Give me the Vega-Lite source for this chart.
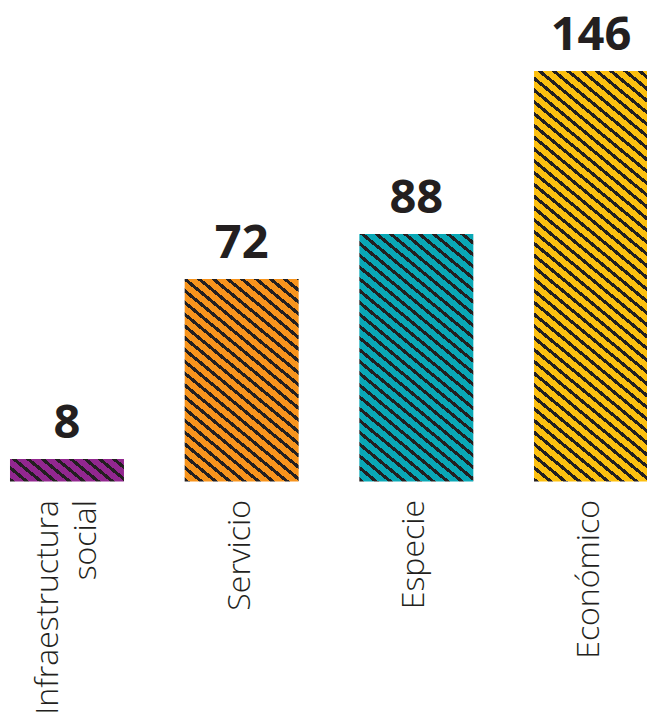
{
  "$schema": "https://vega.github.io/schema/vega-lite/v6.json",
  "width": 647,
  "height": 410.5,
  "autosize": "none",
  "padding": {"top": 71, "left": 0, "right": 0, "bottom": 230.5},
  "background": "white",
  "config": {"view": {"stroke": null}},
  "data": {"values": [
    {"categoria": "Infraestructura social", "valor": 8},
    {"categoria": "Servicio", "valor": 72},
    {"categoria": "Especie", "valor": 88},
    {"categoria": "Económico", "valor": 146}
  ]},
  "encoding": {
    "x": {"field": "categoria", "type": "nominal", "sort": null,
      "scale": {"range": [0, 658], "paddingInner": 0.3475, "paddingOuter": 0.0572, "round": false},
      "axis": {"title": null, "domain": false, "ticks": false, "labelAngle": -90, "labelAlign": "right", "labelBaseline": "middle",
        "labelPadding": 18, "labelFont": "Open Sans", "labelFontWeight": 300, "labelFontSize": 32, "labelColor": "#231f20",
        "labelLineHeight": 38, "labelLimit": 0, "labelOverlap": false, "labelBound": false,
        "labelOffset": {"condition": {"test": "datum.label == 'Infraestructura social'", "value": -19}, "value": -2},
        "labelExpr": "datum.label == 'Infraestructura social' ? ['Infraestructura', 'social'] : datum.label"}},
    "y": {"field": "valor", "type": "quantitative", "scale": {"domain": [0, 146]}, "axis": null}
  },
  "layer": [
    {"transform": [{"filter": "datum.categoria == 'Infraestructura social'"}],
     "mark": {"type": "bar", "fill": {"gradient": "linear", "x1": 0, "y1": 1, "x2": 5.933, "y2": -0.4186, "stops": [
      {"offset":0,"color":"#231f20"},{"offset":0.007,"color":"#231f20"},{"offset":0.007,"color":"#92278f"},
      {"offset":0.02,"color":"#92278f"},{"offset":0.02,"color":"#231f20"},{"offset":0.027,"color":"#231f20"},{"offset":0.027,"color":"#92278f"},
      {"offset":0.04,"color":"#92278f"},{"offset":0.04,"color":"#231f20"},{"offset":0.047,"color":"#231f20"},{"offset":0.047,"color":"#92278f"},
      {"offset":0.06,"color":"#92278f"},{"offset":0.06,"color":"#231f20"},{"offset":0.067,"color":"#231f20"},{"offset":0.067,"color":"#92278f"},
      {"offset":0.08,"color":"#92278f"},{"offset":0.08,"color":"#231f20"},{"offset":0.087,"color":"#231f20"},{"offset":0.087,"color":"#92278f"},
      {"offset":0.1,"color":"#92278f"},{"offset":0.1,"color":"#231f20"},{"offset":0.107,"color":"#231f20"},{"offset":0.107,"color":"#92278f"},
      {"offset":0.12,"color":"#92278f"},{"offset":0.12,"color":"#231f20"},{"offset":0.127,"color":"#231f20"},{"offset":0.127,"color":"#92278f"},
      {"offset":0.14,"color":"#92278f"},{"offset":0.14,"color":"#231f20"},{"offset":0.147,"color":"#231f20"},{"offset":0.147,"color":"#92278f"},
      {"offset":0.16,"color":"#92278f"},{"offset":0.16,"color":"#231f20"},{"offset":0.167,"color":"#231f20"},{"offset":0.167,"color":"#92278f"},
      {"offset":0.18,"color":"#92278f"},{"offset":0.18,"color":"#231f20"},{"offset":0.187,"color":"#231f20"},{"offset":0.187,"color":"#92278f"},
      {"offset":0.2,"color":"#92278f"},{"offset":0.2,"color":"#231f20"},{"offset":0.207,"color":"#231f20"},{"offset":0.207,"color":"#92278f"},
      {"offset":1,"color":"#92278f"}
     ]}}},
    {"transform": [{"filter": "datum.categoria == 'Servicio'"}],
     "mark": {"type": "bar", "fill": {"gradient": "linear", "x1": 0, "y1": 1, "x2": 1.114, "y2": -1.3966, "stops": [
      {"offset":0,"color":"#231f20"},{"offset":0.007,"color":"#231f20"},{"offset":0.007,"color":"#f7941d"},
      {"offset":0.02,"color":"#f7941d"},{"offset":0.02,"color":"#231f20"},{"offset":0.027,"color":"#231f20"},{"offset":0.027,"color":"#f7941d"},
      {"offset":0.04,"color":"#f7941d"},{"offset":0.04,"color":"#231f20"},{"offset":0.047,"color":"#231f20"},{"offset":0.047,"color":"#f7941d"},
      {"offset":0.06,"color":"#f7941d"},{"offset":0.06,"color":"#231f20"},{"offset":0.067,"color":"#231f20"},{"offset":0.067,"color":"#f7941d"},
      {"offset":0.08,"color":"#f7941d"},{"offset":0.08,"color":"#231f20"},{"offset":0.087,"color":"#231f20"},{"offset":0.087,"color":"#f7941d"},
      {"offset":0.1,"color":"#f7941d"},{"offset":0.1,"color":"#231f20"},{"offset":0.107,"color":"#231f20"},{"offset":0.107,"color":"#f7941d"},
      {"offset":0.12,"color":"#f7941d"},{"offset":0.12,"color":"#231f20"},{"offset":0.127,"color":"#231f20"},{"offset":0.127,"color":"#f7941d"},
      {"offset":0.14,"color":"#f7941d"},{"offset":0.14,"color":"#231f20"},{"offset":0.147,"color":"#231f20"},{"offset":0.147,"color":"#f7941d"},
      {"offset":0.16,"color":"#f7941d"},{"offset":0.16,"color":"#231f20"},{"offset":0.167,"color":"#231f20"},{"offset":0.167,"color":"#f7941d"},
      {"offset":0.18,"color":"#f7941d"},{"offset":0.18,"color":"#231f20"},{"offset":0.187,"color":"#231f20"},{"offset":0.187,"color":"#f7941d"},
      {"offset":0.2,"color":"#f7941d"},{"offset":0.2,"color":"#231f20"},{"offset":0.207,"color":"#231f20"},{"offset":0.207,"color":"#f7941d"},
      {"offset":0.22,"color":"#f7941d"},{"offset":0.22,"color":"#231f20"},{"offset":0.227,"color":"#231f20"},{"offset":0.227,"color":"#f7941d"},
      {"offset":0.24,"color":"#f7941d"},{"offset":0.24,"color":"#231f20"},{"offset":0.247,"color":"#231f20"},{"offset":0.247,"color":"#f7941d"},
      {"offset":0.26,"color":"#f7941d"},{"offset":0.26,"color":"#231f20"},{"offset":0.267,"color":"#231f20"},{"offset":0.267,"color":"#f7941d"},
      {"offset":0.28,"color":"#f7941d"},{"offset":0.28,"color":"#231f20"},{"offset":0.287,"color":"#231f20"},{"offset":0.287,"color":"#f7941d"},
      {"offset":0.3,"color":"#f7941d"},{"offset":0.3,"color":"#231f20"},{"offset":0.307,"color":"#231f20"},{"offset":0.307,"color":"#f7941d"},
      {"offset":0.32,"color":"#f7941d"},{"offset":0.32,"color":"#231f20"},{"offset":0.327,"color":"#231f20"},{"offset":0.327,"color":"#f7941d"},
      {"offset":0.34,"color":"#f7941d"},{"offset":0.34,"color":"#231f20"},{"offset":0.347,"color":"#231f20"},{"offset":0.347,"color":"#f7941d"},
      {"offset":0.36,"color":"#f7941d"},{"offset":0.36,"color":"#231f20"},{"offset":0.367,"color":"#231f20"},{"offset":0.367,"color":"#f7941d"},
      {"offset":0.38,"color":"#f7941d"},{"offset":0.38,"color":"#231f20"},{"offset":0.387,"color":"#231f20"},{"offset":0.387,"color":"#f7941d"},
      {"offset":0.4,"color":"#f7941d"},{"offset":0.4,"color":"#231f20"},{"offset":0.407,"color":"#231f20"},{"offset":0.407,"color":"#f7941d"},
      {"offset":0.42,"color":"#f7941d"},{"offset":0.42,"color":"#231f20"},{"offset":0.427,"color":"#231f20"},{"offset":0.427,"color":"#f7941d"},
      {"offset":0.44,"color":"#f7941d"},{"offset":0.44,"color":"#231f20"},{"offset":0.447,"color":"#231f20"},{"offset":0.447,"color":"#f7941d"},
      {"offset":0.46,"color":"#f7941d"},{"offset":0.46,"color":"#231f20"},{"offset":0.467,"color":"#231f20"},{"offset":0.467,"color":"#f7941d"},
      {"offset":0.48,"color":"#f7941d"},{"offset":0.48,"color":"#231f20"},{"offset":0.487,"color":"#231f20"},{"offset":0.487,"color":"#f7941d"},
      {"offset":0.5,"color":"#f7941d"},{"offset":0.5,"color":"#231f20"},{"offset":0.507,"color":"#231f20"},{"offset":0.507,"color":"#f7941d"},
      {"offset":0.52,"color":"#f7941d"},{"offset":0.52,"color":"#231f20"},{"offset":0.527,"color":"#231f20"},{"offset":0.527,"color":"#f7941d"},
      {"offset":1,"color":"#f7941d"}
     ]}}},
    {"transform": [{"filter": "datum.categoria == 'Especie'"}],
     "mark": {"type": "bar", "fill": {"gradient": "linear", "x1": 0, "y1": 1, "x2": 0.7921, "y2": -1.0837, "stops": [
      {"offset":0,"color":"#231f20"},{"offset":0.007,"color":"#231f20"},{"offset":0.007,"color":"#0aa8b6"},
      {"offset":0.02,"color":"#0aa8b6"},{"offset":0.02,"color":"#231f20"},{"offset":0.027,"color":"#231f20"},{"offset":0.027,"color":"#0aa8b6"},
      {"offset":0.04,"color":"#0aa8b6"},{"offset":0.04,"color":"#231f20"},{"offset":0.047,"color":"#231f20"},{"offset":0.047,"color":"#0aa8b6"},
      {"offset":0.06,"color":"#0aa8b6"},{"offset":0.06,"color":"#231f20"},{"offset":0.067,"color":"#231f20"},{"offset":0.067,"color":"#0aa8b6"},
      {"offset":0.08,"color":"#0aa8b6"},{"offset":0.08,"color":"#231f20"},{"offset":0.087,"color":"#231f20"},{"offset":0.087,"color":"#0aa8b6"},
      {"offset":0.1,"color":"#0aa8b6"},{"offset":0.1,"color":"#231f20"},{"offset":0.107,"color":"#231f20"},{"offset":0.107,"color":"#0aa8b6"},
      {"offset":0.12,"color":"#0aa8b6"},{"offset":0.12,"color":"#231f20"},{"offset":0.127,"color":"#231f20"},{"offset":0.127,"color":"#0aa8b6"},
      {"offset":0.14,"color":"#0aa8b6"},{"offset":0.14,"color":"#231f20"},{"offset":0.147,"color":"#231f20"},{"offset":0.147,"color":"#0aa8b6"},
      {"offset":0.16,"color":"#0aa8b6"},{"offset":0.16,"color":"#231f20"},{"offset":0.167,"color":"#231f20"},{"offset":0.167,"color":"#0aa8b6"},
      {"offset":0.18,"color":"#0aa8b6"},{"offset":0.18,"color":"#231f20"},{"offset":0.187,"color":"#231f20"},{"offset":0.187,"color":"#0aa8b6"},
      {"offset":0.2,"color":"#0aa8b6"},{"offset":0.2,"color":"#231f20"},{"offset":0.207,"color":"#231f20"},{"offset":0.207,"color":"#0aa8b6"},
      {"offset":0.22,"color":"#0aa8b6"},{"offset":0.22,"color":"#231f20"},{"offset":0.227,"color":"#231f20"},{"offset":0.227,"color":"#0aa8b6"},
      {"offset":0.24,"color":"#0aa8b6"},{"offset":0.24,"color":"#231f20"},{"offset":0.247,"color":"#231f20"},{"offset":0.247,"color":"#0aa8b6"},
      {"offset":0.26,"color":"#0aa8b6"},{"offset":0.26,"color":"#231f20"},{"offset":0.267,"color":"#231f20"},{"offset":0.267,"color":"#0aa8b6"},
      {"offset":0.28,"color":"#0aa8b6"},{"offset":0.28,"color":"#231f20"},{"offset":0.287,"color":"#231f20"},{"offset":0.287,"color":"#0aa8b6"},
      {"offset":0.3,"color":"#0aa8b6"},{"offset":0.3,"color":"#231f20"},{"offset":0.307,"color":"#231f20"},{"offset":0.307,"color":"#0aa8b6"},
      {"offset":0.32,"color":"#0aa8b6"},{"offset":0.32,"color":"#231f20"},{"offset":0.327,"color":"#231f20"},{"offset":0.327,"color":"#0aa8b6"},
      {"offset":0.34,"color":"#0aa8b6"},{"offset":0.34,"color":"#231f20"},{"offset":0.347,"color":"#231f20"},{"offset":0.347,"color":"#0aa8b6"},
      {"offset":0.36,"color":"#0aa8b6"},{"offset":0.36,"color":"#231f20"},{"offset":0.367,"color":"#231f20"},{"offset":0.367,"color":"#0aa8b6"},
      {"offset":0.38,"color":"#0aa8b6"},{"offset":0.38,"color":"#231f20"},{"offset":0.387,"color":"#231f20"},{"offset":0.387,"color":"#0aa8b6"},
      {"offset":0.4,"color":"#0aa8b6"},{"offset":0.4,"color":"#231f20"},{"offset":0.407,"color":"#231f20"},{"offset":0.407,"color":"#0aa8b6"},
      {"offset":0.42,"color":"#0aa8b6"},{"offset":0.42,"color":"#231f20"},{"offset":0.427,"color":"#231f20"},{"offset":0.427,"color":"#0aa8b6"},
      {"offset":0.44,"color":"#0aa8b6"},{"offset":0.44,"color":"#231f20"},{"offset":0.447,"color":"#231f20"},{"offset":0.447,"color":"#0aa8b6"},
      {"offset":0.46,"color":"#0aa8b6"},{"offset":0.46,"color":"#231f20"},{"offset":0.467,"color":"#231f20"},{"offset":0.467,"color":"#0aa8b6"},
      {"offset":0.48,"color":"#0aa8b6"},{"offset":0.48,"color":"#231f20"},{"offset":0.487,"color":"#231f20"},{"offset":0.487,"color":"#0aa8b6"},
      {"offset":0.5,"color":"#0aa8b6"},{"offset":0.5,"color":"#231f20"},{"offset":0.507,"color":"#231f20"},{"offset":0.507,"color":"#0aa8b6"},
      {"offset":0.52,"color":"#0aa8b6"},{"offset":0.52,"color":"#231f20"},{"offset":0.527,"color":"#231f20"},{"offset":0.527,"color":"#0aa8b6"},
      {"offset":0.54,"color":"#0aa8b6"},{"offset":0.54,"color":"#231f20"},{"offset":0.547,"color":"#231f20"},{"offset":0.547,"color":"#0aa8b6"},
      {"offset":0.56,"color":"#0aa8b6"},{"offset":0.56,"color":"#231f20"},{"offset":0.567,"color":"#231f20"},{"offset":0.567,"color":"#0aa8b6"},
      {"offset":0.58,"color":"#0aa8b6"},{"offset":0.58,"color":"#231f20"},{"offset":0.587,"color":"#231f20"},{"offset":0.587,"color":"#0aa8b6"},
      {"offset":1,"color":"#0aa8b6"}
     ]}}},
    {"transform": [{"filter": "datum.categoria == 'Económico'"}],
     "mark": {"type": "bar", "fill": {"gradient": "linear", "x1": 0, "y1": 1, "x2": 0.3129, "y2": -0.3655, "stops": [
      {"offset":0,"color":"#231f20"},{"offset":0.007,"color":"#231f20"},{"offset":0.007,"color":"#fdc010"},
      {"offset":0.02,"color":"#fdc010"},{"offset":0.02,"color":"#231f20"},{"offset":0.027,"color":"#231f20"},{"offset":0.027,"color":"#fdc010"},
      {"offset":0.04,"color":"#fdc010"},{"offset":0.04,"color":"#231f20"},{"offset":0.047,"color":"#231f20"},{"offset":0.047,"color":"#fdc010"},
      {"offset":0.06,"color":"#fdc010"},{"offset":0.06,"color":"#231f20"},{"offset":0.067,"color":"#231f20"},{"offset":0.067,"color":"#fdc010"},
      {"offset":0.08,"color":"#fdc010"},{"offset":0.08,"color":"#231f20"},{"offset":0.087,"color":"#231f20"},{"offset":0.087,"color":"#fdc010"},
      {"offset":0.1,"color":"#fdc010"},{"offset":0.1,"color":"#231f20"},{"offset":0.107,"color":"#231f20"},{"offset":0.107,"color":"#fdc010"},
      {"offset":0.12,"color":"#fdc010"},{"offset":0.12,"color":"#231f20"},{"offset":0.127,"color":"#231f20"},{"offset":0.127,"color":"#fdc010"},
      {"offset":0.14,"color":"#fdc010"},{"offset":0.14,"color":"#231f20"},{"offset":0.147,"color":"#231f20"},{"offset":0.147,"color":"#fdc010"},
      {"offset":0.16,"color":"#fdc010"},{"offset":0.16,"color":"#231f20"},{"offset":0.167,"color":"#231f20"},{"offset":0.167,"color":"#fdc010"},
      {"offset":0.18,"color":"#fdc010"},{"offset":0.18,"color":"#231f20"},{"offset":0.187,"color":"#231f20"},{"offset":0.187,"color":"#fdc010"},
      {"offset":0.2,"color":"#fdc010"},{"offset":0.2,"color":"#231f20"},{"offset":0.207,"color":"#231f20"},{"offset":0.207,"color":"#fdc010"},
      {"offset":0.22,"color":"#fdc010"},{"offset":0.22,"color":"#231f20"},{"offset":0.227,"color":"#231f20"},{"offset":0.227,"color":"#fdc010"},
      {"offset":0.24,"color":"#fdc010"},{"offset":0.24,"color":"#231f20"},{"offset":0.247,"color":"#231f20"},{"offset":0.247,"color":"#fdc010"},
      {"offset":0.26,"color":"#fdc010"},{"offset":0.26,"color":"#231f20"},{"offset":0.267,"color":"#231f20"},{"offset":0.267,"color":"#fdc010"},
      {"offset":0.28,"color":"#fdc010"},{"offset":0.28,"color":"#231f20"},{"offset":0.287,"color":"#231f20"},{"offset":0.287,"color":"#fdc010"},
      {"offset":0.3,"color":"#fdc010"},{"offset":0.3,"color":"#231f20"},{"offset":0.307,"color":"#231f20"},{"offset":0.307,"color":"#fdc010"},
      {"offset":0.32,"color":"#fdc010"},{"offset":0.32,"color":"#231f20"},{"offset":0.327,"color":"#231f20"},{"offset":0.327,"color":"#fdc010"},
      {"offset":0.34,"color":"#fdc010"},{"offset":0.34,"color":"#231f20"},{"offset":0.347,"color":"#231f20"},{"offset":0.347,"color":"#fdc010"},
      {"offset":0.36,"color":"#fdc010"},{"offset":0.36,"color":"#231f20"},{"offset":0.367,"color":"#231f20"},{"offset":0.367,"color":"#fdc010"},
      {"offset":0.38,"color":"#fdc010"},{"offset":0.38,"color":"#231f20"},{"offset":0.387,"color":"#231f20"},{"offset":0.387,"color":"#fdc010"},
      {"offset":0.4,"color":"#fdc010"},{"offset":0.4,"color":"#231f20"},{"offset":0.407,"color":"#231f20"},{"offset":0.407,"color":"#fdc010"},
      {"offset":0.42,"color":"#fdc010"},{"offset":0.42,"color":"#231f20"},{"offset":0.427,"color":"#231f20"},{"offset":0.427,"color":"#fdc010"},
      {"offset":0.44,"color":"#fdc010"},{"offset":0.44,"color":"#231f20"},{"offset":0.447,"color":"#231f20"},{"offset":0.447,"color":"#fdc010"},
      {"offset":0.46,"color":"#fdc010"},{"offset":0.46,"color":"#231f20"},{"offset":0.467,"color":"#231f20"},{"offset":0.467,"color":"#fdc010"},
      {"offset":0.48,"color":"#fdc010"},{"offset":0.48,"color":"#231f20"},{"offset":0.487,"color":"#231f20"},{"offset":0.487,"color":"#fdc010"},
      {"offset":0.5,"color":"#fdc010"},{"offset":0.5,"color":"#231f20"},{"offset":0.507,"color":"#231f20"},{"offset":0.507,"color":"#fdc010"},
      {"offset":0.52,"color":"#fdc010"},{"offset":0.52,"color":"#231f20"},{"offset":0.527,"color":"#231f20"},{"offset":0.527,"color":"#fdc010"},
      {"offset":0.54,"color":"#fdc010"},{"offset":0.54,"color":"#231f20"},{"offset":0.547,"color":"#231f20"},{"offset":0.547,"color":"#fdc010"},
      {"offset":0.56,"color":"#fdc010"},{"offset":0.56,"color":"#231f20"},{"offset":0.567,"color":"#231f20"},{"offset":0.567,"color":"#fdc010"},
      {"offset":0.58,"color":"#fdc010"},{"offset":0.58,"color":"#231f20"},{"offset":0.587,"color":"#231f20"},{"offset":0.587,"color":"#fdc010"},
      {"offset":0.6,"color":"#fdc010"},{"offset":0.6,"color":"#231f20"},{"offset":0.607,"color":"#231f20"},{"offset":0.607,"color":"#fdc010"},
      {"offset":0.62,"color":"#fdc010"},{"offset":0.62,"color":"#231f20"},{"offset":0.627,"color":"#231f20"},{"offset":0.627,"color":"#fdc010"},
      {"offset":0.64,"color":"#fdc010"},{"offset":0.64,"color":"#231f20"},{"offset":0.647,"color":"#231f20"},{"offset":0.647,"color":"#fdc010"},
      {"offset":0.66,"color":"#fdc010"},{"offset":0.66,"color":"#231f20"},{"offset":0.667,"color":"#231f20"},{"offset":0.667,"color":"#fdc010"},
      {"offset":0.68,"color":"#fdc010"},{"offset":0.68,"color":"#231f20"},{"offset":0.687,"color":"#231f20"},{"offset":0.687,"color":"#fdc010"},
      {"offset":0.7,"color":"#fdc010"},{"offset":0.7,"color":"#231f20"},{"offset":0.707,"color":"#231f20"},{"offset":0.707,"color":"#fdc010"},
      {"offset":0.72,"color":"#fdc010"},{"offset":0.72,"color":"#231f20"},{"offset":0.727,"color":"#231f20"},{"offset":0.727,"color":"#fdc010"},
      {"offset":0.74,"color":"#fdc010"},{"offset":0.74,"color":"#231f20"},{"offset":0.747,"color":"#231f20"},{"offset":0.747,"color":"#fdc010"},
      {"offset":0.76,"color":"#fdc010"},{"offset":0.76,"color":"#231f20"},{"offset":0.767,"color":"#231f20"},{"offset":0.767,"color":"#fdc010"},
      {"offset":0.78,"color":"#fdc010"},{"offset":0.78,"color":"#231f20"},{"offset":0.787,"color":"#231f20"},{"offset":0.787,"color":"#fdc010"},
      {"offset":0.8,"color":"#fdc010"},{"offset":0.8,"color":"#231f20"},{"offset":0.807,"color":"#231f20"},{"offset":0.807,"color":"#fdc010"},
      {"offset":0.82,"color":"#fdc010"},{"offset":0.82,"color":"#231f20"},{"offset":0.827,"color":"#231f20"},{"offset":0.827,"color":"#fdc010"},
      {"offset":0.84,"color":"#fdc010"},{"offset":0.84,"color":"#231f20"},{"offset":0.847,"color":"#231f20"},{"offset":0.847,"color":"#fdc010"},
      {"offset":0.86,"color":"#fdc010"},{"offset":0.86,"color":"#231f20"},{"offset":0.867,"color":"#231f20"},{"offset":0.867,"color":"#fdc010"},
      {"offset":1,"color":"#fdc010"}
     ]}}},
    {"mark": {"type": "text", "font": "Open Sans", "fontWeight": "bold", "fontSize": 47, "baseline": "alphabetic", "dy": -21, "color": "#231f20"},
     "encoding": {"text": {"field": "valor", "type": "quantitative"}}}
  ]
}
